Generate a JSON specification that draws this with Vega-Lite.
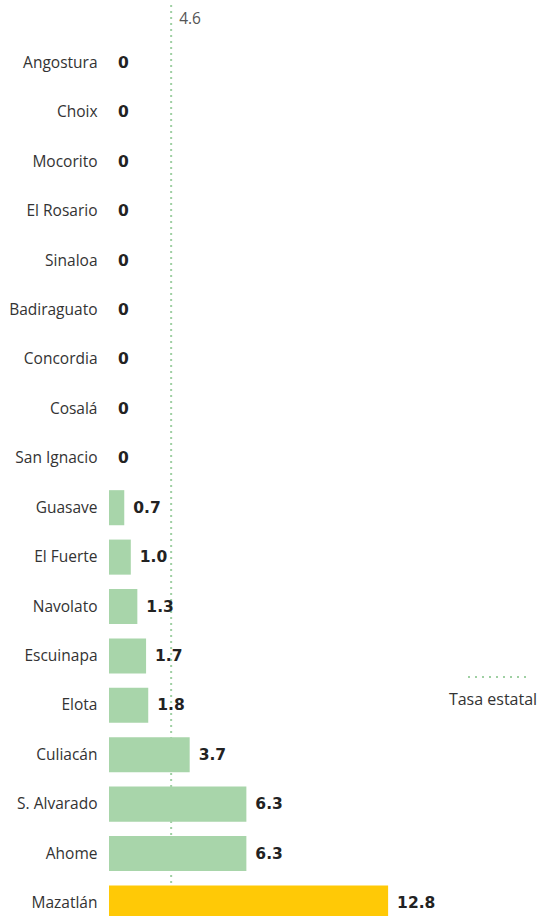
{
  "$schema": "https://vega.github.io/schema/vega-lite/v6.json",
  "width": 430,
  "height": 956,
  "autosize": {"type": "none"},
  "padding": {"left": 109, "top": 5, "right": 1, "bottom": 0},
  "background": "white",
  "config": {"view": {"stroke": null}, "font": "Open Sans"},
  "datasets": {
    "munis": [
      {"municipio": "Angostura", "tasa": 0, "etiqueta": "0", "grupo": "otro"},
      {"municipio": "Choix", "tasa": 0, "etiqueta": "0", "grupo": "otro"},
      {"municipio": "Mocorito", "tasa": 0, "etiqueta": "0", "grupo": "otro"},
      {"municipio": "El Rosario", "tasa": 0, "etiqueta": "0", "grupo": "otro"},
      {"municipio": "Sinaloa", "tasa": 0, "etiqueta": "0", "grupo": "otro"},
      {"municipio": "Badiraguato", "tasa": 0, "etiqueta": "0", "grupo": "otro"},
      {"municipio": "Concordia", "tasa": 0, "etiqueta": "0", "grupo": "otro"},
      {"municipio": "Cosalá", "tasa": 0, "etiqueta": "0", "grupo": "otro"},
      {"municipio": "San Ignacio", "tasa": 0, "etiqueta": "0", "grupo": "otro"},
      {"municipio": "Guasave", "tasa": 0.7, "etiqueta": "0.7", "grupo": "otro"},
      {"municipio": "El Fuerte", "tasa": 1.0, "etiqueta": "1.0", "grupo": "otro"},
      {"municipio": "Navolato", "tasa": 1.3, "etiqueta": "1.3", "grupo": "otro"},
      {"municipio": "Escuinapa", "tasa": 1.7, "etiqueta": "1.7", "grupo": "otro"},
      {"municipio": "Elota", "tasa": 1.8, "etiqueta": "1.8", "grupo": "otro"},
      {"municipio": "Culiacán", "tasa": 3.7, "etiqueta": "3.7", "grupo": "otro"},
      {"municipio": "S. Alvarado", "tasa": 6.3, "etiqueta": "6.3", "grupo": "otro"},
      {"municipio": "Ahome", "tasa": 6.3, "etiqueta": "6.3", "grupo": "otro"},
      {"municipio": "Mazatlán", "tasa": 12.8, "etiqueta": "12.8", "grupo": "max"}
    ],
    "estatal": [{"posicion": 2.85, "etiqueta": "4.6", "leyenda": "Tasa estatal"}]
  },
  "layer": [
    {
      "data": {"name": "estatal"},
      "mark": {"type": "rule", "color": "#9fd0a3", "strokeWidth": 2, "strokeDash": [2, 4]},
      "encoding": {
        "x": {"field": "posicion", "type": "quantitative", "scale": {"domain": [0, 19.72], "nice": false, "zero": true}, "axis": null}
      }
    },
    {
      "data": {"name": "estatal"},
      "mark": {"type": "text", "align": "left", "baseline": "middle", "dx": 8, "fontSize": 15.5, "color": "#555"},
      "encoding": {
        "x": {"field": "posicion", "type": "quantitative"},
        "y": {"value": 14},
        "text": {"field": "etiqueta"}
      }
    },
    {
      "data": {"name": "munis"},
      "mark": {"type": "bar"},
      "encoding": {
        "y": {
          "field": "municipio", "type": "nominal", "sort": null,
          "scale": {"paddingInner": 0.29, "paddingOuter": 0.82},
          "axis": {"title": null, "domain": false, "ticks": false, "labelPadding": 12, "labelFontSize": 15.5, "labelColor": "#333", "labelFont": "Open Sans"}
        },
        "x": {"field": "tasa", "type": "quantitative"},
        "color": {"field": "grupo", "type": "nominal", "scale": {"domain": ["otro", "max"], "range": ["#a8d5aa", "#ffc906"]}, "legend": null}
      }
    },
    {
      "data": {"name": "munis"},
      "mark": {"type": "text", "align": "left", "baseline": "middle", "dx": 9, "fontSize": 15.5, "fontWeight": "bold", "font": "DejaVu Sans", "color": "#222"},
      "encoding": {
        "y": {"field": "municipio", "type": "nominal", "sort": null},
        "x": {"field": "tasa", "type": "quantitative"},
        "text": {"field": "etiqueta"}
      }
    },
    {
      "data": {"name": "estatal"},
      "mark": {"type": "rule", "color": "#9fd0a3", "strokeWidth": 2, "strokeDash": [2, 5]},
      "encoding": {
        "x": {"value": 359}, "x2": {"value": 418},
        "y": {"value": 672}
      }
    },
    {
      "data": {"name": "estatal"},
      "mark": {"type": "text", "align": "center", "baseline": "middle", "fontSize": 16, "color": "#333"},
      "encoding": {
        "x": {"value": 384},
        "y": {"value": 695},
        "text": {"field": "leyenda"}
      }
    }
  ]
}
